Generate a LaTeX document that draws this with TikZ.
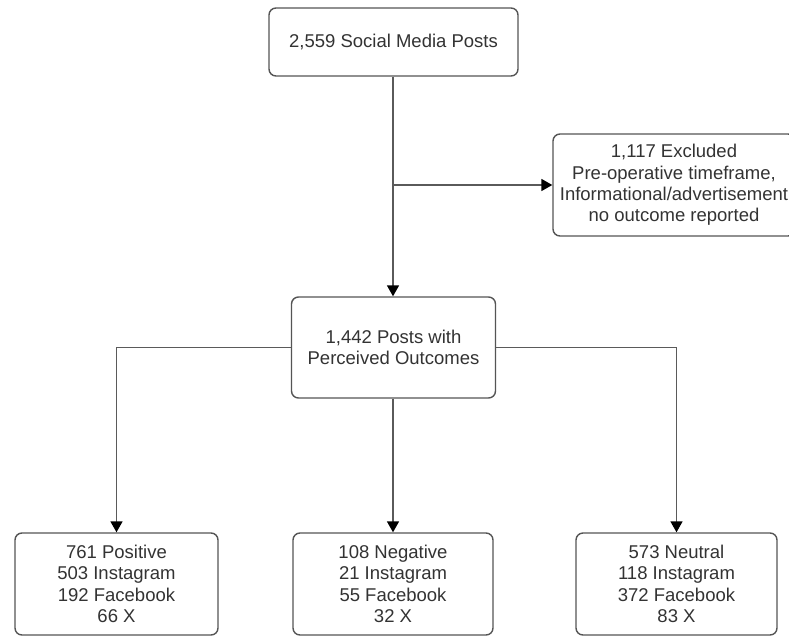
\documentclass[tikz,border=0pt]{standalone}
\usepackage{fontspec}
\setmainfont{Liberation Sans}
\usetikzlibrary{arrows.meta}
\definecolor{txt}{HTML}{333333}
\definecolor{boxline}{HTML}{555555}
\definecolor{conn}{HTML}{5A5A5A}
\tikzset{
  box/.style={draw=boxline, line width=1.4pt, rounded corners=7pt, fill=white,
    align=center, inner sep=0pt, text=txt,
    font=\fontsize{18.5}{21.3}\selectfont},
  conn/.style={draw=conn, line width=1.6pt},
  arr/.style={conn, -{Triangle[width=12pt,length=11pt,fill=black,color=black]}}
}
\begin{document}
\begin{tikzpicture}[x=1pt,y=-1pt]
\fill[white] (0,0) rectangle (789,637);
\useasboundingbox (0,0) rectangle (789,637);

\node[box, minimum width=249pt, minimum height=68pt] (top) at (393.5,42) {2,559 Social Media Posts};
\node[box, minimum width=242pt, minimum height=102pt] (exc) at (674,185)
  {1,117 Excluded\\Pre-operative timeframe,\\Informational/advertisement\\no outcome reported};
\node[box, minimum width=204pt, minimum height=101pt] (mid) at (393.5,347.5)
  {1,442 Posts with\\Perceived Outcomes};
\node[box, minimum width=203pt, minimum height=102pt] (pos) at (116.5,584)
  {761 Positive\\503 Instagram\\192 Facebook\\66 X};
\node[box, minimum width=200pt, minimum height=102pt] (neg) at (393,584)
  {108 Negative\\21 Instagram\\55 Facebook\\32 X};
\node[box, minimum width=201pt, minimum height=102pt] (neu) at (676.5,584)
  {573 Neutral\\118 Instagram\\372 Facebook\\83 X};

\coordinate (split) at (393,185);
\draw[arr] (top.south -| split) -- (mid.north -| split);
\draw[arr] (split) -- (exc.west);
\draw[arr] (mid.west) -| (pos.north);
\draw[arr] (mid.south -| neg.north) -- (neg.north);
\draw[arr] (mid.east) -| (neu.north);
\end{tikzpicture}
\end{document}
